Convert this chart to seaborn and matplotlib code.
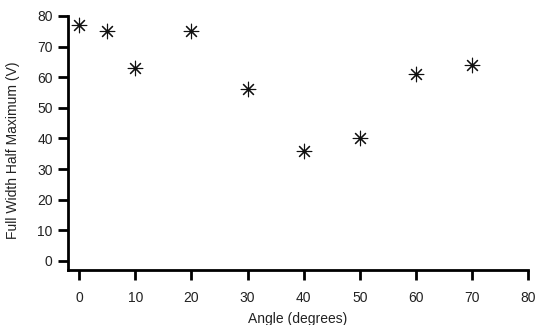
import matplotlib
matplotlib.use("Agg")
import matplotlib.pyplot as plt
import seaborn as sns
import pandas as pd

# values
angle = [0, 5, 10, 20, 30, 40, 50, 60, 70]
fwhm = [77, 75, 63, 75, 56, 36, 40.2, 61, 64]
x_ticks = [0, 10, 20, 30, 40, 50, 60, 70, 80]
y_ticks = [0, 10, 20, 30, 40, 50, 60, 70, 80]

df = pd.DataFrame({"angle": angle, "fwhm": fwhm})

sns.set_style("ticks")
plt.rcParams['font.family'] = ['Liberation Sans', 'DejaVu Sans']

fig = plt.figure(figsize=(5.39, 3.25), dpi=100)
ax = fig.add_axes([0.126, 0.169, 0.854, 0.782])

sns.scatterplot(data=df, x="angle", y="fwhm", marker=(8, 2, 0), s=110,
                color="#111111", linewidth=0.8, ax=ax, legend=False)

ax.set_xlim(-2, 80)
ax.set_ylim(-3, 80)
ax.set_xticks(x_ticks)
ax.set_yticks(y_ticks)
ax.tick_params(axis="both", length=7, width=2, labelsize=10, color="black",
               labelcolor="#222222", pad=8)
ax.tick_params(axis="y", pad=4)
for side in ["top", "right"]:
    ax.spines[side].set_visible(False)
for side in ["left", "bottom"]:
    ax.spines[side].set_linewidth(2)
    ax.spines[side].set_color("black")

ax.set_xlabel("Angle (degrees)", fontsize=10, color="#222222", labelpad=5)
ax.set_ylabel("Full Width Half Maximum (V)", fontsize=10, color="#222222")
ax.yaxis.set_label_coords(-0.104, 0.47)

fig.savefig("out.png", dpi=100)
